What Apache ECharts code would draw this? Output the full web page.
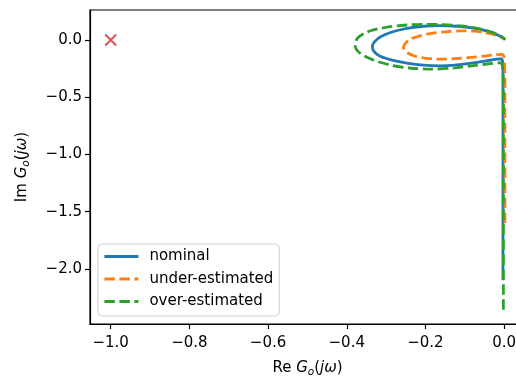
<!DOCTYPE html>
<html>
<head>
<meta charset="utf-8">
<script src="https://cdn.jsdelivr.net/npm/echarts@6/dist/echarts.min.js"></script>
<style>
  html, body { margin: 0; padding: 0; background: #fff; }
  #main { width: 516px; height: 379px; }
</style>
</head>
<body>
<div id="main"></div>
<script>
// Nyquist curves, [Re, Im] from low to high frequency
const nominal = [
  [-0.003, -2.1], [-0.003, -1.2], [-0.003, -0.5], [-0.003, -0.26], [-0.004, -0.19],
  [-0.007, -0.166], [-0.02, -0.168], [-0.045, -0.182], [-0.078, -0.2], [-0.12, -0.218],
  [-0.163, -0.226], [-0.205, -0.22], [-0.247, -0.202], [-0.285, -0.176], [-0.315, -0.143],
  [-0.331, -0.1], [-0.335, -0.052], [-0.328, -0.01], [-0.313, 0.03], [-0.285, 0.07],
  [-0.247, 0.102], [-0.205, 0.12], [-0.163, 0.126], [-0.12, 0.12], [-0.078, 0.104],
  [-0.04, 0.076], [-0.015, 0.042], [0.0, 0.01], [0.002, 0.0]
]
const underEst = [
  [0.002, -1.6], [0.002, -0.8], [0.002, -0.35], [0.001, -0.19], [-0.001, -0.14],
  [-0.005, -0.125], [-0.02, -0.128], [-0.045, -0.138], [-0.078, -0.15], [-0.12, -0.162],
  [-0.163, -0.168], [-0.2, -0.16], [-0.23, -0.138], [-0.249, -0.104], [-0.256, -0.065],
  [-0.25, -0.025], [-0.236, 0.01], [-0.214, 0.036], [-0.188, 0.056], [-0.15, 0.071],
  [-0.11, 0.079], [-0.078, 0.077], [-0.05, 0.066], [-0.025, 0.046], [-0.008, 0.024],
  [0.002, 0.005]
]
const overEst = [
  [-0.002, -2.357], [-0.002, -1.2], [-0.002, -0.5], [-0.003, -0.28], [-0.005, -0.22],
  [-0.01, -0.2], [-0.03, -0.205], [-0.078, -0.224], [-0.13, -0.246], [-0.188, -0.255],
  [-0.24, -0.245], [-0.29, -0.219], [-0.335, -0.172], [-0.366, -0.116], [-0.379, -0.045],
  [-0.373, 0.015], [-0.356, 0.058], [-0.332, 0.088], [-0.29, 0.116], [-0.247, 0.131],
  [-0.2, 0.137], [-0.163, 0.135], [-0.11, 0.123], [-0.061, 0.096], [-0.03, 0.066],
  [-0.008, 0.032], [0.003, 0.005]
]
const critical = [[-1, 0]]

const names = ['nominal', 'under-estimated', 'over-estimated']
const xTicks = [-1.0, -0.8, -0.6, -0.4, -0.2, 0.0]
const yTicks = [-2.0, -1.5, -1.0, -0.5, 0.0]

const fmt = v => (v < 0 ? '\u2212' : '') + Math.abs(v).toFixed(1)
const font = 'DejaVu Sans'

const nameRich = {
  n: { fontFamily: font, fontSize: 15, color: '#000' },
  i: { fontFamily: font, fontSize: 15, fontStyle: 'italic', color: '#000' },
  s: { fontFamily: font, fontSize: 10.5, fontStyle: 'italic', color: '#000', padding: [8, 0, 0, 0] }
}

const chart = echarts.init(document.getElementById('main'))

chart.setOption({
  animation: false,
  textStyle: { fontFamily: font },
  grid: {
    left: 90, top: 10, width: 435, height: 314,
    outerBoundsMode: 'none', containLabel: false,
    show: true, borderColor: '#000', borderWidth: 1.2, backgroundColor: '#fff'
  },
  legend: {
    data: names,
    orient: 'vertical',
    left: 98, top: 244,
    padding: [5, 6, 7, 5],
    itemGap: 7.5,
    itemWidth: 34, itemHeight: 15,
    itemStyle: { opacity: 0 },
    lineStyle: { width: 2.8 },
    backgroundColor: 'rgba(255,255,255,0.8)',
    borderColor: '#d0d0d0', borderWidth: 1, borderRadius: 4,
    textStyle: { fontFamily: font, fontSize: 15, color: '#000', padding: [0, 0, 0, 6] }
  },
  xAxis: {
    type: 'value',
    min: -1.0526, max: 0.053,
    name: '{n|Re }{i|G}{s|o}{n|(}{i|jω}{n|)}',
    nameLocation: 'middle', nameGap: 35,
    nameTextStyle: { rich: nameRich },
    splitLine: { show: false },
    axisLine: { onZero: false, lineStyle: { color: '#000', width: 1.2 } },
    axisTick: { customValues: xTicks, length: 5, lineStyle: { color: '#000', width: 1.2 } },
    axisLabel: { customValues: xTicks, formatter: fmt, fontSize: 15, color: '#000', margin: 12 }
  },
  yAxis: {
    type: 'value',
    min: -2.482, max: 0.262,
    name: '{n|Im }{i|G}{s|o}{n|(}{i|jω}{n|)}',
    nameLocation: 'middle', nameGap: 58, nameRotate: 90,
    nameTextStyle: { rich: nameRich },
    splitLine: { show: false },
    axisLine: { show: true, onZero: false, lineStyle: { color: '#000', width: 1.2 } },
    axisTick: { show: true, customValues: yTicks, length: 5, lineStyle: { color: '#000', width: 1.2 } },
    axisLabel: { customValues: yTicks, formatter: fmt, fontSize: 15, color: '#000', margin: 8 }
  },
  series: [
    {
      name: 'nominal', type: 'line', data: nominal, smooth: 0.3,
      symbol: 'none', color: '#1f77b4',
      lineStyle: { width: 2.8, color: '#1f77b4' }
    },
    {
      name: 'under-estimated', type: 'line', data: underEst, smooth: 0.3,
      symbol: 'none', color: '#ff7f0e',
      lineStyle: { width: 2.8, color: '#ff7f0e', type: [10.5, 4.5] }
    },
    {
      name: 'over-estimated', type: 'line', data: overEst, smooth: 0.3,
      symbol: 'none', color: '#2ca02c',
      lineStyle: { width: 2.8, color: '#2ca02c', type: [10.5, 4.5] }
    },
    {
      name: 'critical', type: 'scatter', data: critical,
      symbol: 'path://M0,0L10,10M10,0L0,10', symbolSize: 11,
      itemStyle: { color: 'none', borderColor: '#d62728', borderWidth: 2 }
    }
  ]
})
</script>
</body>
</html>
